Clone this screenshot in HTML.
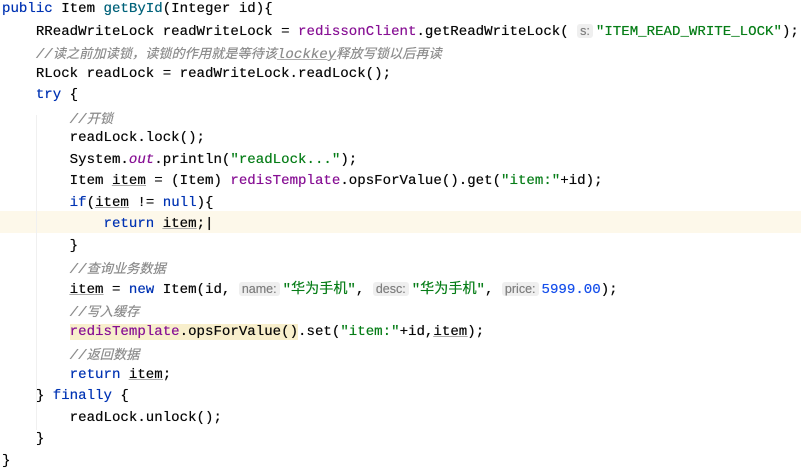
<!DOCTYPE html>
<html><head><meta charset="utf-8"><style>
body{margin:0;background:#fff;width:801px;height:464px;overflow:hidden;position:relative}
.c{position:absolute;left:2px;top:-1px;font-family:"Liberation Mono","Noto Sans CJK SC",monospace;font-size:14.1px;color:#080808;text-shadow:0 0 0.4px currentColor}
.l{height:21.5px;line-height:21.5px;white-space:pre}
.k{color:#0033b3}.m{color:#00627a}.p{color:#871094}.s{color:#067d17}.n{color:#1750eb}
.cm{color:#8c8c8c;font-style:italic}.cj{font-family:"Noto Sans CJK SC",sans-serif;font-size:13.2px}
.h{font-family:"Liberation Sans",sans-serif;font-size:12.5px;color:#808080;background:#efefef;border-radius:3px;padding:0 3px;margin-right:3px}
.u{text-decoration:underline;text-decoration-color:#aaa}
.hl{position:absolute;left:0;top:211px;width:801px;height:21.5px;background:#fdf8ea}
.y{background:#f8efcc}
.g{position:absolute;width:1px;background:#f0f0f0}
.it{font-style:italic}
</style></head><body>
<div class="hl"></div>
<div class="g" style="left:36px;top:115px;height:315px"></div>
<div class="c">
<div class="l"><span class="k">public</span> Item <span class="m">getById</span>(Integer id){</div>
<div class="l">    RReadWriteLock readWriteLock = <span class="p">redissonClient</span>.getReadWriteLock( <span class="h">s:</span><span class="s">"ITEM_READ_WRITE_LOCK"</span>);</div>
<div class="l">    <span class="cm">//<span class="cj">读之前加读锁，读锁的作用就是等待该</span><span class="u">lockkey</span><span class="cj">释放写锁以后再读</span></span></div>
<div class="l">    RLock readLock = readWriteLock.readLock();</div>
<div class="l">    <span class="k">try</span> {</div>
<div class="l">        <span class="cm">//<span class="cj">开锁</span></span></div>
<div class="l">        readLock.lock();</div>
<div class="l">        System.<span class="p it">out</span>.println(<span class="s">"readLock..."</span>);</div>
<div class="l">        Item <span class="u">item</span> = (Item) <span class="p">redisTemplate</span>.opsForValue().get(<span class="s">"item:"</span>+id);</div>
<div class="l">        <span class="k">if</span>(<span class="u">item</span> != <span class="k">null</span>){</div>
<div class="l">            <span class="k">return</span> <span class="u">item</span>;|</div>
<div class="l">        }</div>
<div class="l">        <span class="cm">//<span class="cj">查询业务数据</span></span></div>
<div class="l">        <span class="u">item</span> = <span class="k">new</span> Item(id, <span class="h">name:</span><span class="s">"华为手机"</span>, <span class="h">desc:</span><span class="s">"华为手机"</span>, <span class="h">price:</span><span class="n">5999.00</span>);</div>
<div class="l">        <span class="cm">//<span class="cj">写入缓存</span></span></div>
<div class="l">        <span class="y"><span class="p">redisTemplate</span>.opsForValue()</span>.set(<span class="s">"item:"</span>+id,<span class="u">item</span>);</div>
<div class="l">        <span class="cm">//<span class="cj">返回数据</span></span></div>
<div class="l">        <span class="k">return</span> <span class="u">item</span>;</div>
<div class="l">    } <span class="k">finally</span> {</div>
<div class="l">        readLock.unlock();</div>
<div class="l">    }</div>
<div class="l">}</div>
</div>
</body></html>
